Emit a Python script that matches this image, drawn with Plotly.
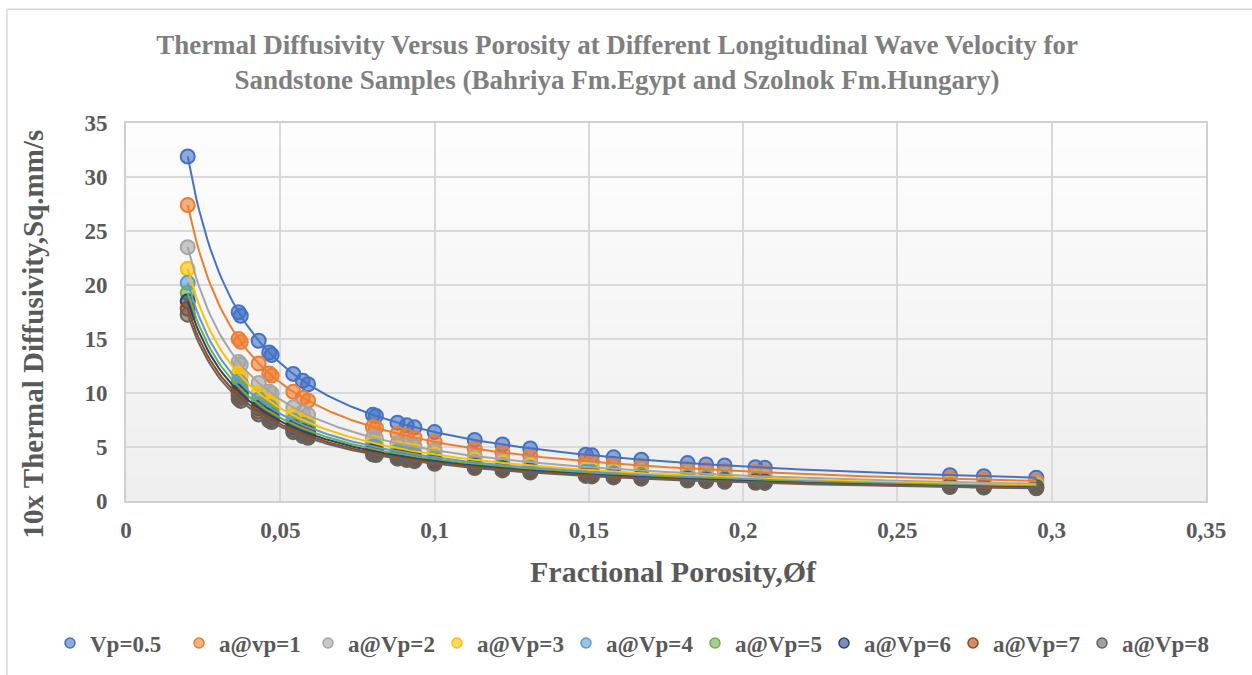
import numpy as np
import plotly.graph_objects as go

porosity = [0.020, 0.0365, 0.0372, 0.043, 0.0464, 0.0472, 0.0542, 0.0573, 0.059, 0.080,
            0.081, 0.088, 0.091, 0.0935, 0.100, 0.113, 0.122, 0.131, 0.149, 0.151,
            0.158, 0.167, 0.182, 0.188, 0.194, 0.204, 0.207, 0.267, 0.278, 0.295]

vp_05 = [31.90, 17.48, 17.15, 14.84, 13.75, 13.52, 11.77, 11.13, 10.81, 7.98,
         7.88, 7.25, 7.01, 6.82, 6.38, 5.65, 5.23, 4.87, 4.28, 4.23,
         4.04, 3.82, 3.51, 3.39, 3.29, 3.13, 3.08, 2.39, 2.29, 2.16]
vp_1 = [27.40, 15.01, 14.73, 12.74, 11.81, 11.61, 10.11, 9.56, 9.29, 6.85,
        6.77, 6.23, 6.02, 5.86, 5.48, 4.85, 4.49, 4.18, 3.68, 3.63,
        3.47, 3.28, 3.01, 2.91, 2.82, 2.69, 2.65, 2.05, 1.97, 1.86]
vp_2 = [23.50, 12.88, 12.63, 10.93, 10.13, 9.96, 8.67, 8.20, 7.97, 5.88,
        5.80, 5.34, 5.16, 5.03, 4.70, 4.16, 3.85, 3.59, 3.15, 3.11,
        2.97, 2.81, 2.58, 2.50, 2.42, 2.30, 2.27, 1.76, 1.69, 1.59]
vp_3 = [21.50, 11.78, 11.56, 10.00, 9.27, 9.11, 7.93, 7.50, 7.29, 5.38,
        5.31, 4.89, 4.73, 4.60, 4.30, 3.81, 3.52, 3.28, 2.89, 2.85,
        2.72, 2.57, 2.36, 2.29, 2.22, 2.11, 2.08, 1.61, 1.55, 1.46]
vp_4 = [20.20, 11.07, 10.86, 9.40, 8.71, 8.56, 7.45, 7.05, 6.85, 5.05,
        4.99, 4.59, 4.44, 4.32, 4.04, 3.58, 3.31, 3.08, 2.71, 2.68,
        2.56, 2.42, 2.22, 2.15, 2.08, 1.98, 1.95, 1.51, 1.45, 1.37]
vp_5 = [19.25, 10.55, 10.35, 8.95, 8.30, 8.16, 7.10, 6.72, 6.53, 4.81,
        4.75, 4.38, 4.23, 4.12, 3.85, 3.41, 3.16, 2.94, 2.58, 2.55,
        2.44, 2.31, 2.12, 2.05, 1.98, 1.89, 1.86, 1.44, 1.38, 1.31]
vp_6 = [18.50, 10.14, 9.95, 8.60, 7.97, 7.84, 6.83, 6.46, 6.27, 4.63,
        4.57, 4.20, 4.07, 3.96, 3.70, 3.27, 3.03, 2.82, 2.48, 2.45,
        2.34, 2.22, 2.03, 1.97, 1.91, 1.81, 1.79, 1.39, 1.33, 1.25]
vp_7 = [17.80, 9.75, 9.57, 8.28, 7.67, 7.54, 6.57, 6.21, 6.03, 4.45,
        4.40, 4.05, 3.91, 3.81, 3.56, 3.15, 2.92, 2.72, 2.39, 2.36,
        2.25, 2.13, 1.96, 1.89, 1.84, 1.75, 1.72, 1.33, 1.28, 1.21]
vp_8 = [17.25, 9.45, 9.27, 8.02, 7.44, 7.31, 6.37, 6.02, 5.85, 4.31,
        4.26, 3.92, 3.79, 3.69, 3.45, 3.05, 2.83, 2.63, 2.32, 2.28,
        2.18, 2.07, 1.90, 1.84, 1.78, 1.69, 1.67, 1.29, 1.24, 1.17]

series_names = ["Vp=0.5", "a@vp=1", "a@Vp=2", "a@Vp=3", "a@Vp=4",
                "a@Vp=5", "a@Vp=6", "a@Vp=7", "a@Vp=8"]
series_values = [vp_05, vp_1, vp_2, vp_3, vp_4, vp_5, vp_6, vp_7, vp_8]
colors = ["#4472C4", "#ED7D31", "#A5A5A5", "#FFC000", "#5B9BD5",
          "#70AD47", "#264478", "#9E480E", "#636363"]

x_ticks = [0, 0.05, 0.1, 0.15, 0.2, 0.25, 0.3, 0.35]
x_tick_labels = ["0", "0,05", "0,1", "0,15", "0,2", "0,25", "0,3", "0,35"]
y_ticks = [0, 5, 10, 15, 20, 25, 30, 35]

FONT = "Times New Roman, Liberation Serif, serif"
TXT = "#595959"
FW, FH = 1252, 675
L, T, W, H = 126, 123, 1080, 379


def rgba(hexc, a):
    h = hexc.lstrip("#")
    return f"rgba({int(h[0:2],16)},{int(h[2:4],16)},{int(h[4:6],16)},{a})"


fig = go.Figure()
xs = np.array(porosity)

# markers
for name, vals, c in zip(series_names, series_values, colors):
    fig.add_trace(go.Scatter(
        x=porosity, y=vals, mode="markers", name=name, showlegend=False,
        marker=dict(size=14, color=rgba(c, 0.6), line=dict(color=c, width=2)),
    ))

# power trendlines (fitted from data)
xf = np.linspace(xs.min(), xs.max(), 300)
for name, vals, c in zip(series_names, series_values, colors):
    b, lna = np.polyfit(np.log(xs), np.log(np.array(vals)), 1)
    yf = np.exp(lna) * xf ** b
    fig.add_trace(go.Scatter(x=xf, y=yf, mode="lines", showlegend=False,
                             line=dict(color=c, width=2), hoverinfo="skip"))

# legend entries
for name, c in zip(series_names, colors):
    fig.add_trace(go.Scatter(
        x=[None], y=[None], mode="markers", name=name,
        marker=dict(size=10, color=rgba(c, 0.6), line=dict(color=c, width=1.5)),
    ))

# plot-area gradient background
nb = 30
shapes = []
for i in range(nb):
    g = int(round(253 - (253 - 239) * i / (nb - 1)))
    shapes.append(dict(type="rect", xref="x domain", yref="y domain",
                       x0=0, x1=1, y0=1 - (i + 1) / nb, y1=1 - i / nb,
                       fillcolor=f"rgb({g},{g},{g})", line=dict(width=0),
                       layer="below"))
# outer chart border
shapes.append(dict(type="rect", xref="paper", yref="paper",
                   x0=(7 - L) / W, x1=(1262 - L) / W,
                   y0=(T + H - 685) / H, y1=(T + H - 9) / H,
                   line=dict(color="#d9d9d9", width=1.5), fillcolor="rgba(0,0,0,0)",
                   layer="below"))

fig.update_layout(
    width=FW, height=FH,
    margin=dict(l=L, r=FW - L - W, t=T, b=FH - T - H),
    paper_bgcolor="white", plot_bgcolor="#f6f6f6",
    separators=", ",
    font=dict(family=FONT, color=TXT),
    title=dict(
        text="<b>Thermal Diffusivity Versus Porosity at Different Longitudinal Wave Velocity for<br>"
             "Sandstone Samples (Bahriya Fm.Egypt and Szolnok Fm.Hungary)</b>",
        x=617 / FW, xref="container", xanchor="center",
        y=1 - 54 / FH, yref="container", yanchor="middle",
        font=dict(family=FONT, size=27, color="#7f7f7f"),
    ),
    shapes=shapes,
    showlegend=True,
    legend=dict(orientation="h", x=(50 - L) / W, xref="paper", xanchor="left",
                y=(T + H - 643) / H, yref="paper", yanchor="middle",
                font=dict(family=FONT, size=23, color=TXT, weight="bold"),
                bgcolor="rgba(0,0,0,0)", entrywidth=84, entrywidthmode="pixels",
                tracegroupgap=0),
    annotations=[
        dict(text="<b>Fractional Porosity,Øf</b>", xref="paper", yref="paper",
             x=(673 - L) / W, y=(T + H - 573) / H, showarrow=False,
             xanchor="center", yanchor="middle",
             font=dict(family=FONT, size=30, color=TXT)),
        dict(text="<b>10x Thermal Diffusivity,Sq.mm/s</b>", xref="paper", yref="paper",
             x=(33 - L) / W, y=(T + H - 335) / H, showarrow=False, textangle=-90,
             xanchor="center", yanchor="middle",
             font=dict(family=FONT, size=29, color=TXT)),
    ],
)

fig.update_xaxes(range=[0, 0.35], tickvals=x_ticks, ticktext=x_tick_labels,
                 showgrid=True, gridcolor="#d9d9d9", gridwidth=1.5,
                 showline=True, linecolor="#d0d0d0", linewidth=2, mirror=True,
                 zeroline=False, ticks="", ticklabelstandoff=7,
                 tickfont=dict(family=FONT, size=23, color=TXT, weight="bold"))
fig.update_yaxes(range=[0, 35], tickvals=y_ticks,
                 showgrid=True, gridcolor="#d9d9d9", gridwidth=1.5,
                 showline=True, linecolor="#d0d0d0", linewidth=2, mirror=True,
                 zeroline=False, ticks="", ticklabelstandoff=12,
                 tickfont=dict(family=FONT, size=23, color=TXT, weight="bold"))

fig.write_html("out.html", config={"displayModeBar": False},
               post_script="document.body.style.margin='0';")
